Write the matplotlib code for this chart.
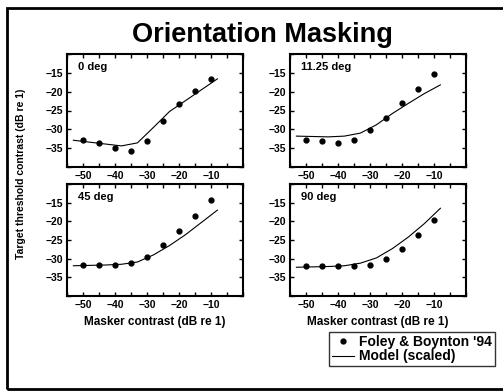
import matplotlib
matplotlib.use("Agg")
import matplotlib.pyplot as plt
from matplotlib.patches import Rectangle

plt.rcParams['font.family'] = ['Liberation Sans', 'DejaVu Sans']
plt.rcParams['font.weight'] = 'bold'

W, H = 503, 392

masker = [-50, -45, -40, -35, -30, -25, -20, -15, -10]
model_x = [-53, -48, -43, -38, -33, -28, -23, -18, -13, -8]

titles = ["0 deg", "11.25 deg", "45 deg", "90 deg"]

data_0 = [-32.7, -33.6, -34.9, -35.7, -33.0, -27.7, -23.2, -19.7, -16.6]
data_11 = [-32.7, -33.2, -33.6, -32.7, -30.2, -26.9, -23.1, -19.3, -15.3]
data_45 = [-31.8, -31.8, -31.6, -31.1, -29.5, -26.4, -22.7, -18.6, -14.4]
data_90 = [-32.0, -32.0, -32.0, -32.0, -31.6, -30.2, -27.4, -23.6, -19.6]

model_0 = [-32.9, -33.4, -33.9, -34.4, -33.6, -29.5, -25.3, -22.4, -19.5, -16.6]
model_11 = [-31.8, -31.9, -32.0, -31.8, -31.0, -28.8, -25.8, -23.1, -20.5, -18.2]
model_45 = [-31.9, -31.8, -31.7, -31.5, -30.9, -29.0, -26.5, -23.6, -20.3, -17.0]
model_90 = [-32.3, -32.2, -32.1, -31.9, -31.2, -29.8, -27.3, -24.2, -20.6, -16.5]

data_sets = [data_0, data_11, data_45, data_90]
model_sets = [model_0, model_11, model_45, model_90]

xticks_major = [-50, -40, -30, -20, -10]
xticks_minor = [-55, -45, -35, -25, -15, -5, 0]
yticks_major = [-35, -30, -25, -20, -15]
yticks_minor = [-40, -10]

fig = plt.figure(figsize=(W / 100, H / 100), dpi=100)

# figure frame
fig.patches.append(Rectangle((7 / W, 1 - 389 / H), 1.0, (389 - 8) / H,
                             transform=fig.transFigure, fill=False,
                             edgecolor='black', linewidth=2.0))

# axes boxes in pixel coords (left, top, right, bottom)
boxes = [(67, 54, 243, 167), (290, 54, 466, 167),
         (67, 184, 243, 296), (290, 184, 466, 296)]

axes = []
for i, (l, t, r, b) in enumerate(boxes):
    ax = fig.add_axes([l / W, 1 - b / H, (r - l) / W, (b - t) / H])
    axes.append(ax)
    ax.plot(masker, data_sets[i], 'o', color='black', markersize=3.5,
            label="Foley & Boynton '94")
    ax.plot(model_x, model_sets[i], '-', color='black', linewidth=0.8,
            label="Model (scaled)")
    ax.set_xlim(-55, 0)
    ax.set_ylim(-40, -10)
    ax.set_xticks(xticks_major)
    ax.set_xticks(xticks_minor, minor=True)
    ax.set_yticks(yticks_major)
    ax.set_yticks(yticks_minor, minor=True)
    ax.set_xticklabels([f"\u2212{abs(v)}" for v in xticks_major])
    ax.set_yticklabels([f"\u2212{abs(v)}" for v in yticks_major])
    ax.tick_params(which='both', direction='in', top=True, right=True,
                   length=3, width=1.0, labelsize=7.5, pad=3)
    for s in ax.spines.values():
        s.set_linewidth(1.5)
    ax.text(0.06, 0.93, titles[i], transform=ax.transAxes, fontsize=8,
            fontweight='bold', ha='left', va='top')
    if i >= 2:
        ax.set_xlabel("Masker contrast (dB re 1)", fontsize=8.5,
                      fontweight='bold', labelpad=4)

fig.text(262 / W, 1 - 35 / H, "Orientation Masking", fontsize=19.5,
         fontweight='bold', ha='center', va='center')
fig.text(21 / W, 1 - 174 / H, "Target threshold contrast (dB re 1)",
         fontsize=7.5, fontweight='bold', rotation=90, ha='center',
         va='center')

handles, labels = axes[0].get_legend_handles_labels()
leg = fig.legend(handles, labels, loc='upper right',
                 bbox_to_anchor=(495 / W, 1 - 332 / H),
                 bbox_transform=fig.transFigure,
                 frameon=True, fancybox=False,
                 borderpad=0.2, labelspacing=0.05, handlelength=1.6,
                 handletextpad=0.4, borderaxespad=0.0,
                 prop={'weight': 'bold', 'size': 10})
leg.get_frame().set_edgecolor('black')
leg.get_frame().set_linewidth(1.0)

fig.savefig("out.png", dpi=100)
